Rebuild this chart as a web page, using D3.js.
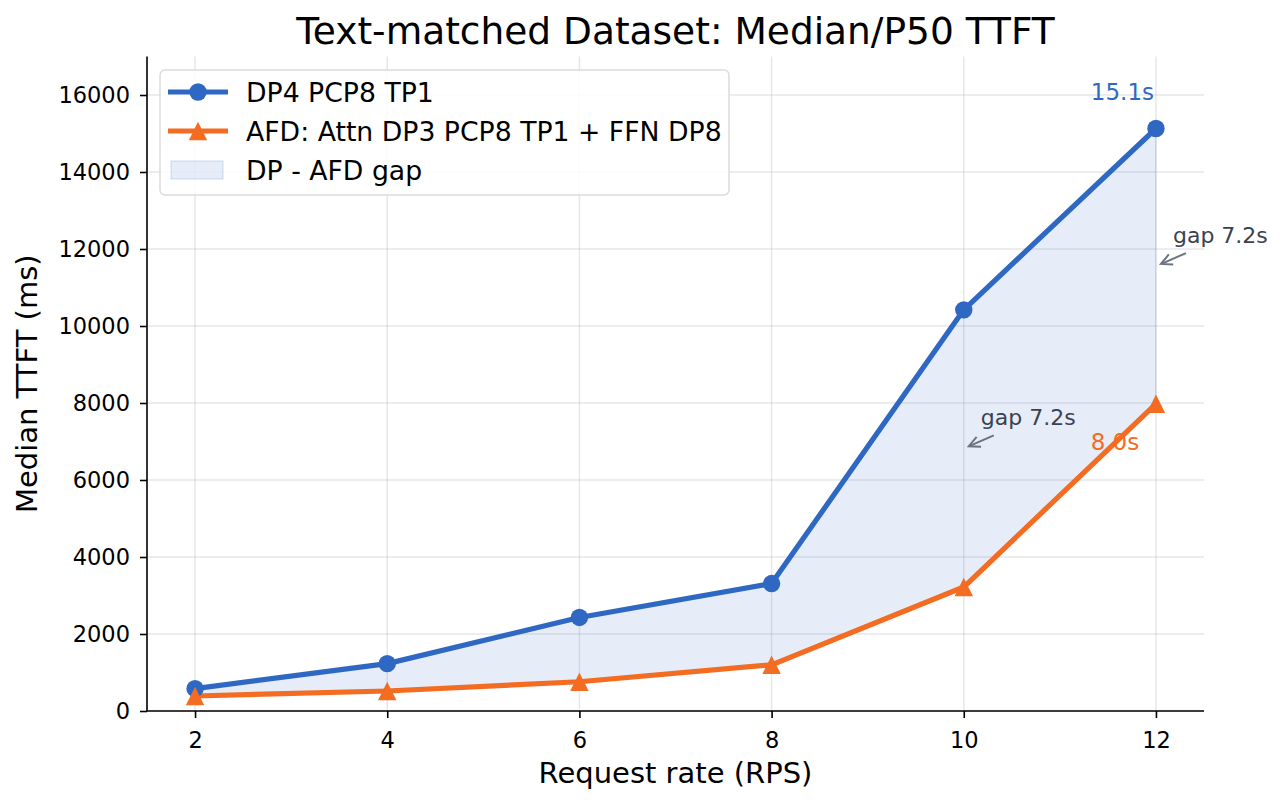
<!DOCTYPE html>
<html>
<head>
<meta charset="utf-8">
<script src="https://cdn.jsdelivr.net/npm/d3@7"></script>
<style>
  body { margin: 0; background: #fff; }
  text { font-family: "DejaVu Sans", sans-serif; }
</style>
</head>
<body>
<div id="chart"></div>
<script>
// data
const rates = [2, 4, 6, 8, 10, 12];
const dpTtft = [580, 1230, 2430, 3310, 10420, 15130];
const afdTtft = [390, 520, 760, 1200, 3220, 7980];
const xTicks = [2, 4, 6, 8, 10, 12];
const yTicks = [0, 2000, 4000, 6000, 8000, 10000, 12000, 14000, 16000];
const seriesNames = ["DP4 PCP8 TP1", "AFD: Attn DP3 PCP8 TP1 + FFN DP8", "DP - AFD gap"];
const gapRates = [12, 10];
const gapLabels = ["gap 7.2s", "gap 7.2s"];

const blue = "#2f68c2";
const orange = "#f36c21";

const width = 1285, height = 804;
const margin = { top: 56.5, right: 81, bottom: 93, left: 147 };

const svg = d3.select("#chart").append("svg")
    .attr("width", width)
    .attr("height", height);

const x = d3.scaleLinear().domain([1.5, 12.5]).range([margin.left, width - margin.right]);
const y = d3.scaleLinear().domain([0, 17000]).range([height - margin.bottom, margin.top]);

// triangle marker like matplotlib '^'
const triPath = s => `M0,${-s}L${s},${s}L${-s},${s}Z`;

// grid
svg.append("g")
    .selectAll("line")
    .data(xTicks)
    .join("line")
    .attr("x1", d => x(d)).attr("x2", d => x(d))
    .attr("y1", y(0)).attr("y2", y(17000))
    .attr("stroke", "#b0b0b0").attr("stroke-opacity", 0.3).attr("stroke-width", 1.5);
svg.append("g")
    .selectAll("line")
    .data(yTicks)
    .join("line")
    .attr("x1", x(1.5)).attr("x2", x(12.5))
    .attr("y1", d => y(d)).attr("y2", d => y(d))
    .attr("stroke", "#b0b0b0").attr("stroke-opacity", 0.3).attr("stroke-width", 1.5);

const rows = rates.map((r, i) => ({ r, dp: dpTtft[i], afd: afdTtft[i] }));

// gap fill
const area = d3.area()
    .x(d => x(d.r))
    .y0(d => y(d.afd))
    .y1(d => y(d.dp));
svg.append("path")
    .datum(rows)
    .attr("d", area)
    .attr("fill", blue).attr("fill-opacity", 0.12)
    .attr("stroke", blue).attr("stroke-opacity", 0.12).attr("stroke-width", 1.5);

// lines
const lineDp = d3.line().x(d => x(d.r)).y(d => y(d.dp));
const lineAfd = d3.line().x(d => x(d.r)).y(d => y(d.afd));
svg.append("path").datum(rows).attr("d", lineDp)
    .attr("fill", "none").attr("stroke", blue).attr("stroke-width", 5.2).attr("stroke-linejoin", "round");
svg.append("path").datum(rows).attr("d", lineAfd)
    .attr("fill", "none").attr("stroke", orange).attr("stroke-width", 5.2).attr("stroke-linejoin", "round");

// markers
svg.append("g").selectAll("circle")
    .data(rows).join("circle")
    .attr("cx", d => x(d.r)).attr("cy", d => y(d.dp))
    .attr("r", 8.7).attr("fill", blue);
svg.append("g").selectAll("path")
    .data(rows).join("path")
    .attr("transform", d => `translate(${x(d.r)},${y(d.afd)})`)
    .attr("d", triPath(9.2)).attr("fill", orange);

// axes
const xAxis = svg.append("g")
    .attr("transform", `translate(0,${y(0)})`)
    .call(d3.axisBottom(x).tickValues(xTicks).tickSize(7).tickPadding(14));
const yAxis = svg.append("g")
    .attr("transform", `translate(${x(1.5)},0)`)
    .call(d3.axisLeft(y).tickValues(yTicks).tickFormat(d3.format("d")).tickSize(7).tickPadding(10));
[xAxis, yAxis].forEach(a => {
  a.select(".domain").attr("stroke", "#000").attr("stroke-width", 1.6);
  a.selectAll(".tick line").attr("stroke", "#000").attr("stroke-width", 1.6);
  a.selectAll("text").attr("font-size", 22.5).attr("fill", "#000").style("font-family", "DejaVu Sans");
});
xAxis.select(".domain").attr("d", `M${x(1.5)},0H${x(12.5)}`);
yAxis.select(".domain").attr("d", `M0,${y(0)}V${y(17000)}`);

// titles
svg.append("text")
    .attr("x", (x(1.5) + x(12.5)) / 2).attr("y", 44)
    .attr("text-anchor", "middle").attr("font-size", 37.5)
    .text("Text-matched Dataset: Median/P50 TTFT");
svg.append("text")
    .attr("x", (x(1.5) + x(12.5)) / 2).attr("y", 783)
    .attr("text-anchor", "middle").attr("font-size", 29)
    .text("Request rate (RPS)");
svg.append("text")
    .attr("transform", `translate(37,${(y(0) + y(17000)) / 2}) rotate(-90)`)
    .attr("text-anchor", "middle").attr("font-size", 29)
    .text("Median TTFT (ms)");

// end labels
const last = rows[rows.length - 1];
svg.append("text")
    .attr("x", x(last.r) - 33.5).attr("y", y(last.dp) - 28.5)
    .attr("text-anchor", "middle").attr("font-size", 23).attr("fill", blue)
    .text((last.dp / 1000).toFixed(1) + "s");
svg.append("text")
    .attr("x", x(last.r) - 41).attr("y", y(last.afd) + 46)
    .attr("text-anchor", "middle").attr("font-size", 23).attr("fill", orange)
    .text((last.afd / 1000).toFixed(1) + "s");

// gap annotations, pointing at mid-gap
const gapNotes = gapRates.map((r, i) => {
  const k = rates.indexOf(r);
  return { r, mid: (dpTtft[k] + afdTtft[k]) / 2, label: gapLabels[i] };
});
const gn = svg.append("g").selectAll("g").data(gapNotes).join("g");
gn.append("line")
    .attr("x1", d => x(d.r) + 30).attr("y1", d => y(d.mid) - 13)
    .attr("x2", d => x(d.r) + 6).attr("y2", d => y(d.mid) - 2.5)
    .attr("stroke", "#6b7280").attr("stroke-width", 2);
gn.append("path")
    .attr("transform", d => {
      const x0 = x(d.r) + 5, y0 = y(d.mid) - 2.2;
      const ang = Math.atan2(-10.5, 24) * 180 / Math.PI;
      return `translate(${x0},${y0}) rotate(${ang})`;
    })
    .attr("d", "M11,-5.5L0,0L11,5.5")
    .attr("fill", "none").attr("stroke", "#6b7280").attr("stroke-width", 2);
gn.append("text")
    .attr("x", d => x(d.r) + 17).attr("y", d => y(d.mid) - 23)
    .attr("font-size", 22).attr("fill", "#3a4250")
    .text(d => d.label);

// legend
const lg = svg.append("g").attr("transform", "translate(160,70)");
lg.append("rect")
    .attr("width", 569).attr("height", 125).attr("rx", 5)
    .attr("fill", "#fff").attr("fill-opacity", 0.85)
    .attr("stroke", "#dcdcdc").attr("stroke-width", 1.5);
const ly = [22, 61, 100];
lg.append("line").attr("x1", 8).attr("x2", 68).attr("y1", ly[0]).attr("y2", ly[0])
    .attr("stroke", blue).attr("stroke-width", 5.2);
lg.append("circle").attr("cx", 38).attr("cy", ly[0]).attr("r", 8.7).attr("fill", blue);
lg.append("line").attr("x1", 8).attr("x2", 68).attr("y1", ly[1]).attr("y2", ly[1])
    .attr("stroke", orange).attr("stroke-width", 5.2);
lg.append("path").attr("transform", `translate(38,${ly[1]})`).attr("d", triPath(9.2)).attr("fill", orange);
lg.append("rect").attr("x", 11).attr("y", ly[2] - 9).attr("width", 52).attr("height", 18)
    .attr("fill", blue).attr("fill-opacity", 0.12)
    .attr("stroke", blue).attr("stroke-opacity", 0.14).attr("stroke-width", 1.5);
lg.selectAll("text.lbl")
    .data(seriesNames).join("text")
    .attr("class", "lbl")
    .attr("x", 86).attr("y", (d, i) => ly[i] + 9.5)
    .attr("font-size", 26.7).attr("fill", "#000")
    .text(d => d);
</script>
</body>
</html>
